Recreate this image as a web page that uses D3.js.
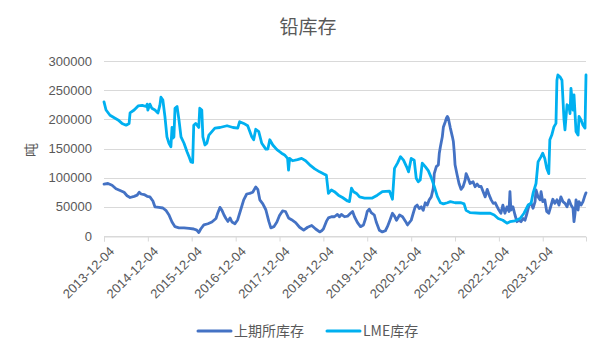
<!DOCTYPE html>
<html>
<head>
<meta charset="utf-8">
<script src="https://cdn.jsdelivr.net/npm/d3@7"></script>
<style>
  body { margin: 0; background: #fff; }
  svg text { font-family: "Liberation Sans", "Noto Sans CJK SC", sans-serif; fill: #595959; }
  .cjk { font-family: "Noto Sans CJK SC", sans-serif; }
</style>
</head>
<body>
<div id="chart"></div>
<script>
var title = "铅库存";
var yTitle = "吨";
var seriesNames = ["上期所库存", "LME库存"];
var seriesColors = ["#4472C4", "#00B0F0"];
var yTicks = [0, 50000, 100000, 150000, 200000, 250000, 300000];
var xTickLabels = ["2013-12-04", "2014-12-04", "2015-12-04", "2016-12-04", "2017-12-04",
    "2018-12-04", "2019-12-04", "2020-12-04", "2021-12-04", "2022-12-04", "2023-12-04"];
var xEnd = "2024-11-28";

// 上期所库存 (吨)
var shfeData = [
    ["2013-12-04", 89000], ["2014-01-06", 90000], ["2014-02-09", 87000], ["2014-03-14", 81000],
    ["2014-04-17", 78000], ["2014-05-20", 75000], ["2014-06-14", 69000], ["2014-07-09", 66000],
    ["2014-08-12", 68000], ["2014-09-06", 70000], ["2014-09-23", 75000], ["2014-10-09", 72000],
    ["2014-11-03", 71000], ["2014-11-28", 68000], ["2014-12-21", 67000], ["2015-01-15", 60000],
    ["2015-02-01", 50000], ["2015-03-06", 49000], ["2015-04-08", 48000], ["2015-05-03", 44000],
    ["2015-05-29", 36000], ["2015-06-23", 24000], ["2015-07-18", 16000], ["2015-08-20", 14000],
    ["2015-10-01", 14000], ["2015-11-12", 13000], ["2015-12-21", 12000], ["2016-01-15", 10000],
    ["2016-02-01", 6000], ["2016-02-17", 12000], ["2016-03-14", 19000], ["2016-04-17", 21000],
    ["2016-05-20", 24000], ["2016-06-23", 30000], ["2016-07-09", 40000], ["2016-07-26", 49000],
    ["2016-08-12", 44000], ["2016-08-29", 36000], ["2016-09-14", 30000], ["2016-10-01", 25000],
    ["2016-10-18", 31000], ["2016-11-03", 24000], ["2016-11-28", 21000], ["2016-12-21", 28000],
    ["2017-01-15", 45000], ["2017-02-09", 62000], ["2017-03-06", 72000], ["2017-03-31", 73000],
    ["2017-04-25", 75000], ["2017-05-20", 84000], ["2017-06-06", 80000], ["2017-06-23", 62000],
    ["2017-07-18", 55000], ["2017-08-12", 45000], ["2017-09-06", 25000], ["2017-09-23", 14000],
    ["2017-10-18", 16000], ["2017-11-12", 24000], ["2017-12-04", 35000], ["2017-12-29", 43000],
    ["2018-01-23", 42000], ["2018-02-17", 31000], ["2018-03-14", 28000], ["2018-04-17", 23000],
    ["2018-05-20", 15000], ["2018-06-23", 10000], ["2018-07-26", 15000], ["2018-08-29", 18000],
    ["2018-10-01", 12000], ["2018-11-03", 7000], ["2018-11-20", 9000], ["2018-12-04", 12000],
    ["2018-12-29", 25000], ["2019-01-15", 31000], ["2019-02-09", 33000], ["2019-03-06", 33000],
    ["2019-03-31", 37000], ["2019-04-17", 33000], ["2019-05-03", 37000], ["2019-05-29", 33000],
    ["2019-06-23", 34000], ["2019-07-18", 39000], ["2019-08-04", 42000], ["2019-08-20", 33000],
    ["2019-09-14", 23000], ["2019-10-09", 16000], ["2019-11-03", 19000], ["2019-11-20", 30000],
    ["2019-12-04", 42000], ["2019-12-21", 46000], ["2020-01-06", 40000], ["2020-02-01", 36000],
    ["2020-02-17", 24000], ["2020-03-14", 10000], ["2020-04-08", 7000], ["2020-05-03", 9000],
    ["2020-05-20", 16000], ["2020-06-06", 25000], ["2020-07-01", 39000], ["2020-07-18", 34000],
    ["2020-08-04", 27000], ["2020-08-29", 36000], ["2020-09-23", 33000], ["2020-10-18", 25000],
    ["2020-11-03", 19000], ["2020-12-04", 27000], ["2020-12-21", 39000], ["2021-01-06", 50000],
    ["2021-01-23", 53000], ["2021-02-09", 47000], ["2021-02-26", 50000], ["2021-03-14", 44000],
    ["2021-03-31", 57000], ["2021-04-17", 53000], ["2021-05-03", 62000], ["2021-05-20", 67000],
    ["2021-06-06", 82000], ["2021-06-14", 107000], ["2021-07-01", 119000], ["2021-07-18", 122000],
    ["2021-07-26", 142000], ["2021-08-04", 153000], ["2021-08-20", 170000], ["2021-08-29", 187000],
    ["2021-09-14", 196000], ["2021-09-23", 202000], ["2021-10-01", 205000], ["2021-10-09", 202000],
    ["2021-10-26", 185000], ["2021-11-12", 170000], ["2021-11-20", 162000], ["2021-11-28", 142000],
    ["2021-12-04", 122000], ["2021-12-21", 105000], ["2022-01-06", 90000], ["2022-01-23", 80000],
    ["2022-02-09", 84500], ["2022-02-26", 96000], ["2022-03-06", 107000], ["2022-03-23", 99000],
    ["2022-04-08", 90000], ["2022-05-03", 93000], ["2022-05-20", 84500], ["2022-06-06", 89000],
    ["2022-06-23", 84500], ["2022-07-09", 85000], ["2022-07-26", 76000], ["2022-08-12", 67000],
    ["2022-08-29", 80000], ["2022-09-14", 70000], ["2022-10-01", 62000], ["2022-10-18", 56000],
    ["2022-11-03", 57000], ["2022-11-20", 50000], ["2022-12-04", 44500], ["2022-12-21", 39000],
    ["2023-01-06", 53000], ["2023-01-23", 39000], ["2023-02-09", 50000], ["2023-02-26", 42000],
    ["2023-03-06", 76000], ["2023-03-14", 44500], ["2023-03-31", 50000], ["2023-04-17", 36000],
    ["2023-05-03", 24500], ["2023-05-20", 27000], ["2023-06-06", 24500], ["2023-06-23", 30000],
    ["2023-07-09", 27000], ["2023-07-26", 39000], ["2023-08-12", 53000], ["2023-08-29", 56000],
    ["2023-09-14", 47500], ["2023-10-01", 59000], ["2023-10-09", 79000], ["2023-10-26", 67000],
    ["2023-11-12", 62000], ["2023-11-20", 76000], ["2023-12-04", 59000], ["2023-12-21", 62000],
    ["2024-01-06", 42000], ["2024-01-23", 39000], ["2024-02-09", 51000], ["2024-02-26", 63000],
    ["2024-03-14", 56000], ["2024-03-31", 62000], ["2024-04-17", 53000], ["2024-05-03", 67000],
    ["2024-05-20", 59000], ["2024-06-06", 56000], ["2024-06-23", 50000], ["2024-07-09", 62000],
    ["2024-07-26", 53000], ["2024-08-12", 47500], ["2024-08-20", 24500], ["2024-08-29", 39000],
    ["2024-09-06", 62000], ["2024-09-23", 44500], ["2024-10-01", 59000], ["2024-10-18", 53000],
    ["2024-11-03", 59000], ["2024-11-20", 70000], ["2024-11-28", 74000]
];

// LME库存 (吨)
var lmeData = [
    ["2013-12-04", 230000], ["2013-12-21", 216000], ["2014-01-23", 207000], ["2014-03-06", 202000],
    ["2014-03-31", 199000], ["2014-05-03", 193000], ["2014-06-06", 190000], ["2014-07-01", 193000],
    ["2014-07-09", 211000], ["2014-08-12", 216000], ["2014-09-14", 223000], ["2014-10-18", 224000],
    ["2014-11-20", 222000], ["2014-11-28", 226000], ["2014-12-04", 216000], ["2014-12-21", 226000],
    ["2015-01-06", 219000], ["2015-02-01", 216000], ["2015-02-26", 211000], ["2015-03-14", 224000],
    ["2015-03-23", 238000], ["2015-04-08", 233000], ["2015-04-25", 205000], ["2015-05-12", 170000],
    ["2015-05-29", 159000], ["2015-06-14", 153000], ["2015-06-23", 186000], ["2015-07-01", 168000],
    ["2015-07-09", 170000], ["2015-07-18", 219000], ["2015-08-04", 222000], ["2015-08-20", 199000],
    ["2015-09-06", 170000], ["2015-10-01", 159000], ["2015-10-26", 144500], ["2015-11-12", 136000],
    ["2015-11-28", 127000], ["2015-12-12", 126000], ["2015-12-21", 190000], ["2016-01-06", 193000],
    ["2016-02-01", 186000], ["2016-02-09", 219000], ["2016-02-26", 216000], ["2016-03-06", 170000],
    ["2016-03-23", 156000], ["2016-04-08", 159000], ["2016-04-25", 173000], ["2016-05-20", 179000],
    ["2016-06-14", 185000], ["2016-07-26", 186000], ["2016-09-23", 189000], ["2016-11-12", 186000],
    ["2016-12-21", 185000], ["2017-01-06", 196000], ["2017-02-09", 193000], ["2017-03-14", 189000],
    ["2017-04-17", 170000], ["2017-05-03", 165000], ["2017-05-20", 183000], ["2017-06-14", 179000],
    ["2017-07-09", 159000], ["2017-08-12", 149000], ["2017-08-29", 149000], ["2017-09-14", 165000],
    ["2017-10-09", 156000], ["2017-11-12", 148000], ["2017-12-21", 142000], ["2018-01-15", 139000],
    ["2018-02-09", 133000], ["2018-02-17", 113000], ["2018-02-26", 133000], ["2018-03-23", 129000],
    ["2018-05-03", 131000], ["2018-06-06", 133000], ["2018-07-09", 129000], ["2018-08-12", 122000],
    ["2018-09-23", 115000], ["2018-11-03", 110000], ["2018-12-12", 106000], ["2018-12-29", 104000],
    ["2019-01-15", 73000], ["2019-02-09", 79000], ["2019-03-06", 76000], ["2019-04-08", 70000],
    ["2019-05-12", 66000], ["2019-06-23", 60000], ["2019-07-09", 59000], ["2019-07-26", 82000],
    ["2019-08-12", 76000], ["2019-09-06", 73000], ["2019-10-01", 67000], ["2019-11-12", 65000],
    ["2020-01-15", 65000], ["2020-02-26", 70000], ["2020-04-08", 76000], ["2020-06-06", 77000],
    ["2020-07-01", 63000], ["2020-07-18", 116000], ["2020-08-12", 125000], ["2020-09-06", 136000],
    ["2020-10-01", 130000], ["2020-10-26", 119000], ["2020-11-12", 110000], ["2020-12-04", 133000],
    ["2020-12-29", 130000], ["2021-01-15", 99000], ["2021-02-01", 93000], ["2021-02-17", 96000],
    ["2021-03-06", 125000], ["2021-03-31", 119000], ["2021-04-25", 112000], ["2021-05-20", 100000],
    ["2021-06-14", 85000], ["2021-07-09", 68000], ["2021-08-04", 57000], ["2021-08-29", 55000],
    ["2021-10-01", 57000], ["2021-10-26", 59000], ["2021-12-04", 57000], ["2022-01-23", 57000],
    ["2022-02-17", 55000], ["2022-03-06", 44000], ["2022-04-08", 40000], ["2022-07-01", 39000],
    ["2022-09-23", 39000], ["2022-10-26", 36000], ["2022-11-28", 30000], ["2023-01-06", 27000],
    ["2023-02-09", 22000], ["2023-03-06", 24500], ["2023-04-17", 26000], ["2023-05-29", 30000],
    ["2023-07-01", 39000], ["2023-08-04", 53000], ["2023-08-29", 56000], ["2023-09-14", 73000],
    ["2023-10-09", 90000], ["2023-10-26", 127000], ["2023-11-20", 136000], ["2023-12-04", 142000],
    ["2023-12-21", 133000], ["2024-01-06", 116000], ["2024-01-23", 107000], ["2024-02-01", 165000],
    ["2024-02-17", 173000], ["2024-03-06", 187000], ["2024-03-23", 193000], ["2024-03-31", 267000],
    ["2024-04-08", 276000], ["2024-04-25", 273000], ["2024-05-12", 267000], ["2024-05-29", 199000],
    ["2024-06-06", 182000], ["2024-06-23", 225000], ["2024-07-09", 222000], ["2024-07-18", 210000],
    ["2024-07-26", 253000], ["2024-08-12", 216000], ["2024-08-20", 242000], ["2024-09-06", 179000],
    ["2024-09-23", 173000], ["2024-10-01", 205000], ["2024-10-18", 199000], ["2024-11-03", 190000],
    ["2024-11-20", 185000], ["2024-11-28", 276000]
];

var width = 616, height = 354;
var margin = {left: 104, right: 30, top: 61, bottom: 118};
var parseDate = d3.timeParse("%Y-%m-%d");

var svg = d3.select("#chart").append("svg")
    .attr("width", width).attr("height", height);

var x = d3.scaleTime()
    .domain([parseDate(xTickLabels[0]), parseDate(xEnd)])
    .range([margin.left, width - margin.right]);
var y = d3.scaleLinear()
    .domain([0, 300000])
    .range([height - margin.bottom, margin.top]);

// title
svg.append("text")
    .attr("class", "cjk")
    .attr("x", 308).attr("y", 34)
    .attr("text-anchor", "middle")
    .style("font-size", "19px")
    .text(title);

// gridlines
svg.append("g")
    .selectAll("line")
    .data(yTicks)
    .enter().append("line")
    .attr("x1", x.range()[0]).attr("x2", x.range()[1])
    .attr("y1", d => Math.round(y(d)) + 0.5).attr("y2", d => Math.round(y(d)) + 0.5)
    .style("stroke", "#D9D9D9").style("stroke-width", 1);

// y axis labels
svg.append("g")
    .selectAll("text")
    .data(yTicks)
    .enter().append("text")
    .attr("x", 92).attr("y", d => y(d) + 4.5)
    .attr("text-anchor", "end")
    .style("font-size", "13px")
    .text(d => d);

svg.append("text")
    .attr("class", "cjk")
    .attr("transform", "translate(36,150) rotate(-90)")
    .attr("text-anchor", "middle")
    .style("font-size", "14px")
    .text(yTitle);

// x axis
var xAxis = d3.axisBottom(x)
    .tickValues(xTickLabels.map(parseDate))
    .tickSize(5)
    .tickFormat(d3.timeFormat("%Y-%m-%d"));
var gx = svg.append("g")
    .attr("transform", "translate(0," + (Math.round(y(0)) + 0.5) + ")")
    .call(xAxis);
gx.select(".domain").style("stroke", "#D9D9D9");
gx.selectAll(".tick line").style("stroke", "#D9D9D9");
gx.selectAll(".tick text")
    .style("font-size", "13px")
    .style("fill", "#595959")
    .attr("text-anchor", "end")
    .attr("dx", 0).attr("dy", 0)
    .attr("transform", "translate(5,10) rotate(-45)");

// lines
var line = d3.line()
    .x(d => x(parseDate(d[0])))
    .y(d => y(d[1]));

[shfeData, lmeData].forEach(function (data, i) {
    svg.append("path")
        .datum(data)
        .attr("d", line)
        .style("fill", "none")
        .style("stroke", seriesColors[i])
        .style("stroke-width", 2.8)
        .style("stroke-linejoin", "round")
        .style("stroke-linecap", "round");
});

// legend
var legendX = [198, 327];
var legend = svg.append("g");
seriesNames.forEach(function (name, i) {
    legend.append("line")
        .attr("x1", legendX[i]).attr("x2", legendX[i] + 33)
        .attr("y1", 331).attr("y2", 331)
        .style("stroke", seriesColors[i]).style("stroke-width", 3)
        .style("stroke-linecap", "round");
    legend.append("text")
        .attr("class", "cjk")
        .attr("x", legendX[i] + 36).attr("y", 336)
        .style("font-size", "14px")
        .text(name);
});
</script>
</body>
</html>
